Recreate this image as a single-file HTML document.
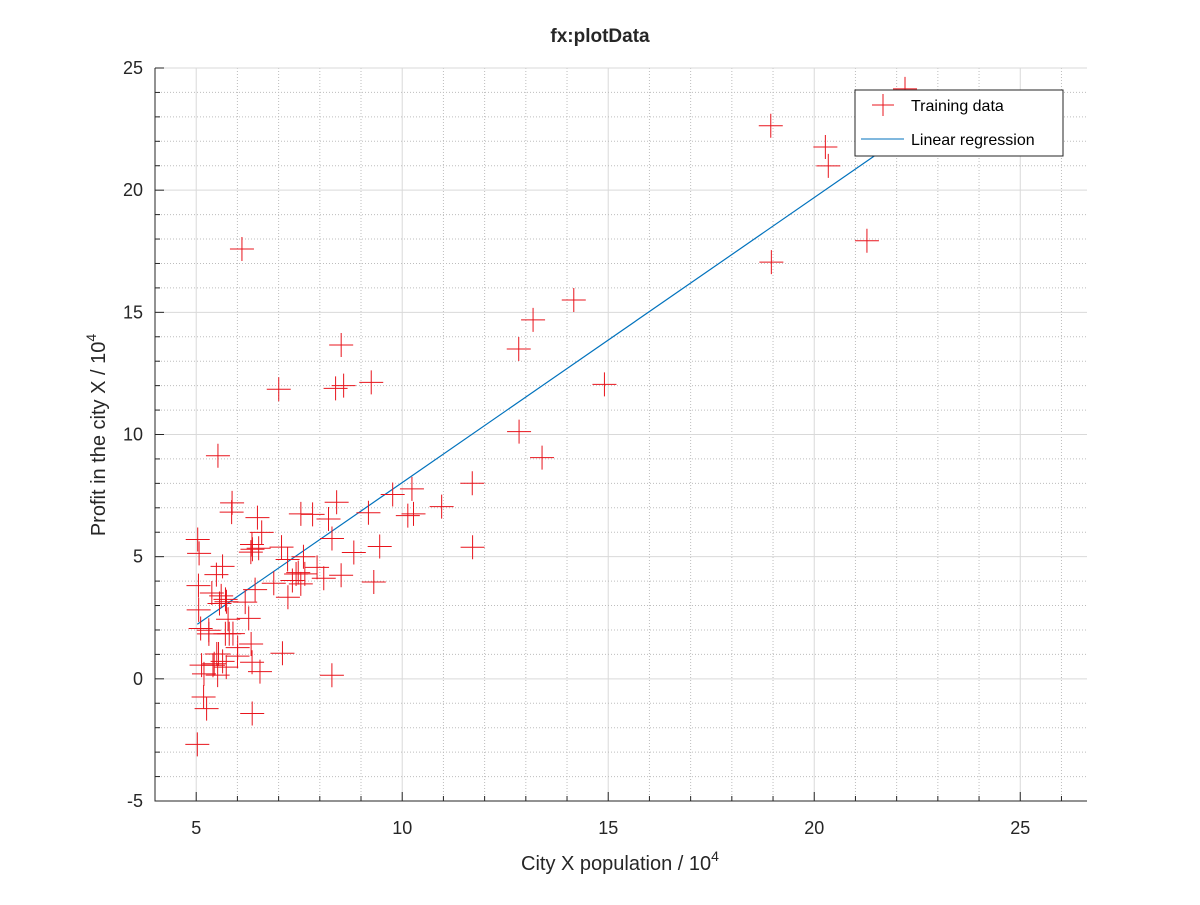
<!DOCTYPE html>
<html><head><meta charset="utf-8"><style>
body{margin:0;background:#fff;}
svg text{font-family:"Liberation Sans",sans-serif;fill:#262626;}
</style></head><body>
<svg id="chart" width="1200" height="900" xmlns="http://www.w3.org/2000/svg">
<g id="grid"></g>
<g id="axes"></g>
<g id="marks"></g>
<text x="600" y="42" text-anchor="middle" font-size="19" font-weight="bold">fx:plotData</text>
<text x="620" y="870" text-anchor="middle" font-size="20">City X population / 10<tspan dy="-9" font-size="14">4</tspan></text>
<text transform="translate(105,435) rotate(-90)" text-anchor="middle" font-size="20">Profit in the city X / 10<tspan dy="-9" font-size="14">4</tspan></text>
<g>
<rect x="855" y="90" width="208" height="66" fill="#fff" stroke="#262626" stroke-width="1"/>
<g><line x1="872" y1="105" x2="894" y2="105" stroke="#e8141c"/><line x1="883" y1="94" x2="883" y2="116" stroke="#e8141c"/><text x="911" y="111" font-size="16" style="fill:#000">Training data</text></g>
<g><line x1="861" y1="139" x2="904" y2="139" stroke="#0072bd"/><text x="911" y="145" font-size="16" style="fill:#000">Linear regression</text></g>
</g>
</svg>
<script>
const popX=[6.1101,5.5277,8.5186,7.0032,5.8598,8.3829,7.4764,8.5781,6.4862,5.0546,5.7107,14.164,5.734,8.4084,5.6407,5.3794,6.3654,5.1301,6.4296,7.0708,6.1891,20.27,5.4901,6.3261,5.5649,18.945,12.828,10.957,13.176,22.203,5.2524,6.5894,9.2482,5.8918,8.2111,7.9334,8.0959,5.6063,12.836,6.3534,5.4069,6.8825,11.708,5.7737,7.8247,7.0931,5.0702,5.8014,11.7,5.5416,7.5402,5.3077,7.4239,7.6031,6.3328,6.3589,6.2742,5.6397,9.3102,9.4536,8.8254,5.1793,21.279,14.908,18.959,7.2182,8.2951,10.236,5.4994,20.341,10.136,7.3345,6.0062,7.2259,5.0269,6.5479,7.5386,5.0365,10.274,5.1077,5.7292,5.1884,6.3557,9.7687,6.5159,8.5172,9.1802,6.002,5.5204,5.0594,5.7077,7.6366,5.8707,5.3054,8.2934,13.394,5.4369];
const profitY=[17.592,9.1302,13.662,11.854,6.8233,11.886,4.3483,12,6.5987,3.8166,3.2522,15.505,3.1551,7.2258,0.71618,3.5129,5.3048,0.56077,3.6518,5.3893,3.1386,21.767,4.263,5.1875,3.0825,22.638,13.501,7.0467,14.692,24.147,-1.22,5.9966,12.134,1.8495,6.5426,4.5623,4.1164,3.3928,10.117,5.4974,0.55657,3.9115,5.3854,2.4406,6.7318,1.0463,5.1337,1.844,8.0043,1.0179,6.7504,1.8396,4.2885,4.9981,1.4233,-1.4211,2.4756,4.6042,3.9624,5.4141,5.1694,-0.74279,17.929,12.054,17.054,4.8852,5.7442,7.7754,1.0173,20.992,6.6799,4.0259,1.2784,3.3411,-2.6807,0.29678,3.8845,5.7014,6.7526,2.0576,0.47953,0.20421,0.67861,7.5435,5.3436,4.2415,6.7981,0.92695,0.152,2.8214,1.8451,4.2959,7.2029,1.9869,0.14454,9.0551,0.61705];
const theta=[-3.6303,1.1664];
const xTicks=[5,10,15,20,25];
const yTicks=[-5,0,5,10,15,20,25];
const L=155,R=1087,T=68,B=801,X0=4,X1=26.62,Y0=-5,Y1=25;
const sx=v=>L+(v-X0)/(X1-X0)*(R-L), sy=v=>B-(v-Y0)/(Y1-Y0)*(B-T);
const NS="http://www.w3.org/2000/svg";
function mk(p,t,a){const e=document.createElementNS(NS,t);for(const k in a)e.setAttribute(k,a[k]);p.appendChild(e);return e;}
const grid=document.getElementById('grid'),axes=document.getElementById('axes'),marks=document.getElementById('marks');
for(let v=5;v<=26;v++){const maj=v%5==0;const g=mk(grid,'line',{x1:sx(v),x2:sx(v),y1:T,y2:B,stroke:maj?'#d9d9d9':'#bdbdbd','stroke-width':1,'stroke-dasharray':maj?'':'1,2'});


const t=mk(axes,'line',{x1:sx(v),x2:sx(v),y1:B,y2:B-(maj?9:5),stroke:'#262626'});

}
for(let v=-4;v<=25;v++){const maj=v%5==0;const g=mk(grid,'line',{x1:L,x2:R,y1:sy(v),y2:sy(v),stroke:maj?'#d9d9d9':'#bdbdbd','stroke-width':1,'stroke-dasharray':maj?'':'1,2'});


const t=mk(axes,'line',{x1:L,x2:L+(maj?9:5),y1:sy(v),y2:sy(v),stroke:'#262626'});

}
const ax=mk(axes,'path',{d:`M${L},${T}V${B}H${R}`,fill:'none',stroke:'#262626','stroke-width':1});


xTicks.forEach(v=>{const t=mk(axes,'text',{x:sx(v),y:B+33,'text-anchor':'middle','font-size':18});t.textContent=v;

});
yTicks.forEach(v=>{const t=mk(axes,'text',{x:L-12,y:sy(v)+6,'text-anchor':'end','font-size':18});t.textContent=v;

});
const xmin=Math.min(...popX),xmax=Math.max(...popX);
const ln=mk(marks,'line',{x1:sx(xmin),y1:sy(theta[0]+theta[1]*xmin),x2:sx(xmax),y2:sy(theta[0]+theta[1]*xmax),stroke:'#0072bd','stroke-width':1.2});


popX.forEach((x,i)=>{const cx=sx(x),cy=sy(profitY[i]);const p=mk(marks,'path',{d:`M${cx-12},${cy}H${cx+12}M${cx},${cy-12}V${cy+12}`,stroke:'#e8141c','stroke-width':1});

});
</script>
</body></html>
